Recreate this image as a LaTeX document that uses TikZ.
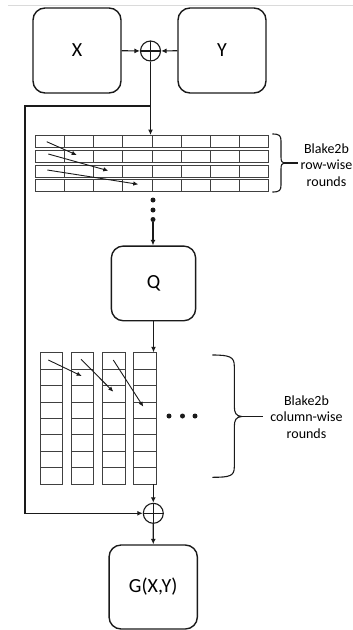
\documentclass[tikz,border=0pt]{standalone}
\usepackage{fontspec}
\setmainfont{Carlito}
\usetikzlibrary{arrows.meta,calc,positioning}
\definecolor{ink}{HTML}{1A1A1A}
\definecolor{gridink}{HTML}{404040}
\definecolor{rulegray}{HTML}{DADADA}
\tikzset{
  block/.style={draw=ink,line width=1.4pt,rounded corners=12pt,minimum width=88pt,minimum height=85pt,inner sep=0pt,font=\fontsize{20}{24}\selectfont},
  xorop/.style={draw=ink,line width=1.1pt,circle,minimum size=20pt,inner sep=0pt,
    path picture={\draw[ink,line width=1.1pt] (path picture bounding box.north) -- (path picture bounding box.south)
      (path picture bounding box.west) -- (path picture bounding box.east);}},
  wire/.style={draw=ink,line width=1.2pt,-{Latex[length=5.5pt,width=5pt]}},
  mix/.style={draw=ink,line width=0.9pt,-{Latex[length=5pt,width=4.5pt]}},
  rowcell/.style={draw=gridink,line width=0.9pt,anchor=north west,minimum width=29.125pt,minimum height=12pt,inner sep=0pt},
  colcell/.style={draw=gridink,line width=0.9pt,anchor=north west,minimum width=22.3pt,minimum height=16.4pt,inner sep=0pt},
  gap/.style={circle,fill=ink,inner sep=0pt,minimum size=5pt},
  note/.style={align=center,font=\fontsize{14}{16.5}\selectfont,inner sep=0pt},
  bracket/.style={draw=ink,line width=1.1pt}
}
\begin{document}
\begin{tikzpicture}[x=1pt,y=-1pt]
\useasboundingbox (0,0) rectangle (353,630);
\draw[rulegray,line width=1.3pt] (8,5.5) -- (353,5.5);

% inputs
\node[block] (boxX) at (77,50.5) {X};
\node[block] (boxY) at (222,50.5) {Y};
\node[xorop] (xorin) at (150.5,51) {};
\draw[wire] (boxX) -- (xorin);
\draw[wire] (boxY) -- (xorin);

% row-wise rounds
\foreach \r in {0,...,3}
  \foreach \c in {0,...,7}
    \node[rowcell] (rc-\r-\c) at ({35+29.125*\c},{135+14.75*\r}) {};
\draw[wire] (xorin.south) -- (xorin.south |- rc-0-0.north);
\foreach \i/\sx/\sy/\ex/\ey in {1/46.7/141.7/76.7/155, 2/48.3/154/108.3/170.7, 3/47.3/170/138.3/184.3} {
  \coordinate (rs\i) at (\sx,\sy);
  \coordinate (re\i) at (\ex,\ey);
  \draw[mix] (rs\i) -- (re\i);
}
\draw[bracket] (272.3,134) .. controls (279.5,134) and (281,135.5) .. (281,141) -- (281,157)
  .. controls (281,161) and (282,163) .. (284,163) coordinate (rowtip)
  .. controls (282,163) and (281,165) .. (281,169) -- (281,185)
  .. controls (281,190.5) and (279.5,192) .. (272.3,192);
\coordinate (rowend) at (298,163);
\draw[bracket] (rowtip) -- (rowend);
\node[note] (rowlabel) at (326.5,165) {Blake2b\\row-wise\\rounds};

% more rounds
\node[gap] (d1) at (153,200) {};
\node[gap] (d2) at (153,210) {};
\node[gap] (d3) at (153,219.5) {};
\node[block,minimum width=84.3pt,minimum height=74.7pt] (boxQ) at (153.5,283.4) {Q};
\draw[wire] (d3) -- (d3 |- boxQ.north);

% column-wise rounds
\foreach \c in {0,...,3}
  \foreach \r in {0,...,7}
    \node[colcell] (cc-\c-\r) at ({40+31.1*\c},{352.3+16.4*\r}) {};
\draw[wire] (boxQ.south) -- (boxQ.south |- cc-0-0.north);
\foreach \i/\sx/\sy/\ex/\ey in {1/48.3/360/81.7/376, 2/81/359.3/113.3/391.7, 3/113.3/360/143.3/406.7} {
  \coordinate (cs\i) at (\sx,\sy);
  \coordinate (ce\i) at (\ex,\ey);
  \draw[mix] (cs\i) -- (ce\i);
}
\node[gap] (h1) at (169,416) {};
\node[gap] (h2) at (182.5,416) {};
\node[gap] (h3) at (195,416) {};
\draw[bracket] (212.3,355) .. controls (230,355) and (234.3,357) .. (234.3,366) -- (234.3,406)
  .. controls (234.3,413) and (236,416) .. (241.7,416.5) coordinate (coltip)
  .. controls (236,417) and (234.3,420) .. (234.3,427) -- (234.3,467)
  .. controls (234.3,476) and (230,477.3) .. (212.3,477.3);
\coordinate (colend) at (263.3,416.5);
\draw[bracket] (coltip) -- (colend);
\node[note] (collabel) at (306.5,417) {Blake2b\\column-wise\\rounds};

% feed-forward
\node[xorop] (xorout) at (153.3,513.3) {};
\draw[wire] (xorout |- cc-3-7.south) -- (xorout);
\coordinate (split) at (150.5,106);
\coordinate (loopL) at (25,106);
\draw[wire] (split) -- (loopL) |- (xorout.west);
\node[block,minimum width=88.3pt,minimum height=84pt] (boxG) at (153.2,587) {G(X,Y)};
\draw[wire] (xorout) -- (boxG);
\end{tikzpicture}
\end{document}
